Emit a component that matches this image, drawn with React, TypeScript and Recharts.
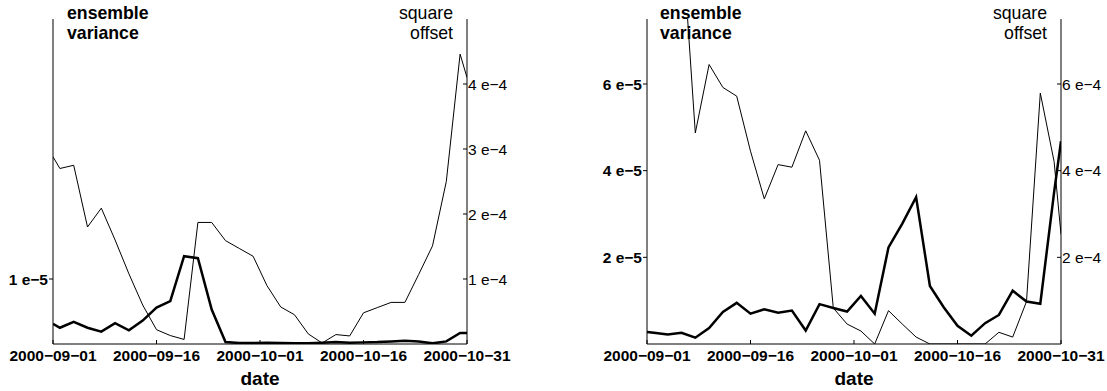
import React from 'react';
import { LineChart, Line, XAxis, YAxis } from 'recharts';

const FONT = '"Liberation Sans", Arial, Helvetica, sans-serif';

// day offsets from 2000-09-01
const days = [0, 1, 3, 5, 7, 9, 11, 13, 15, 17, 19, 21, 23, 25, 27, 29, 31, 33, 35, 37, 39, 41, 43, 45, 47, 49, 51, 53, 55, 57, 59, 60];

const xTickDays = [0, 15, 30, 45, 60];
const xTickLabels = ['2000−09−01', '2000−09−16', '2000−10−01', '2000−10−16', '2000−10−31'];

// Left panel
const leftVariance = [
  0.31e-5, 0.25e-5, 0.34e-5, 0.25e-5, 0.19e-5, 0.32e-5, 0.21e-5, 0.36e-5, 0.56e-5, 0.66e-5,
  1.35e-5, 1.32e-5, 0.53e-5, 0.03e-5, 0.015e-5, 0.015e-5, 0.02e-5, 0.015e-5, 0.01e-5, 0.01e-5,
  0.02e-5, 0.03e-5, 0.02e-5, 0.025e-5, 0.03e-5, 0.04e-5, 0.05e-5, 0.04e-5, 0.01e-5, 0.04e-5,
  0.17e-5, 0.17e-5,
];
const leftOffset = [
  2.88e-4, 2.7e-4, 2.75e-4, 1.8e-4, 2.09e-4, 1.6e-4, 1.08e-4, 0.6e-4, 0.22e-4, 0.13e-4,
  0.07e-4, 1.87e-4, 1.87e-4, 1.59e-4, 1.47e-4, 1.35e-4, 0.9e-4, 0.57e-4, 0.45e-4, 0.155e-4,
  0.015e-4, 0.145e-4, 0.124e-4, 0.48e-4, 0.56e-4, 0.64e-4, 0.64e-4, 1.07e-4, 1.51e-4, 2.5e-4,
  4.46e-4, 4.1e-4,
];
const leftVarTicks = [1e-5];
const leftVarTickLabels = ['1 e−5'];
const leftOffTicks = [1e-4, 2e-4, 3e-4, 4e-4];
const leftOffTickLabels = ['1 e−4', '2 e−4', '3 e−4', '4 e−4'];

// Right panel
const rightVariance = [
  0.28e-5, 0.26e-5, 0.22e-5, 0.26e-5, 0.145e-5, 0.37e-5, 0.74e-5, 0.95e-5, 0.7e-5, 0.8e-5,
  0.72e-5, 0.77e-5, 0.31e-5, 0.92e-5, 0.83e-5, 0.75e-5, 1.11e-5, 0.7e-5, 2.23e-5, 2.78e-5,
  3.39e-5, 1.34e-5, 0.85e-5, 0.42e-5, 0.19e-5, 0.48e-5, 0.67e-5, 1.23e-5, 0.98e-5, 0.93e-5,
  3.5e-5, 4.68e-5,
];
const rightOffset = [
  9.5e-4, 9.4e-4, 9.7e-4, 9.6e-4, 4.87e-4, 6.45e-4, 5.92e-4, 5.72e-4, 4.45e-4, 3.35e-4,
  4.14e-4, 4.08e-4, 4.92e-4, 4.24e-4, 0.83e-4, 0.46e-4, 0.3e-4, 0, 0.77e-4, 0.46e-4,
  0.16e-4, 0, 0, 0, 0, 0, 0.27e-4, 0.16e-4, 0.98e-4, 5.79e-4,
  4.21e-4, 2.53e-4,
];
const rightVarTicks = [2e-5, 4e-5, 6e-5];
const rightVarTickLabels = ['2 e−5', '4 e−5', '6 e−5'];
const rightOffTicks = [2e-4, 4e-4, 6e-4];
const rightOffTickLabels = ['2 e−4', '4 e−4', '6 e−4'];

const labelOf = (ticks: number[], labels: string[]) => (v: number) => {
  const i = ticks.findIndex((t) => Math.abs(t - v) < Math.abs(t) * 1e-6 + 1e-12);
  return i >= 0 ? labels[i] : '';
};

type PanelProps = {
  left: number;
  width: number;
  leftW: number;
  rightW: number;
  variance: number[];
  offset: number[];
  vMax: number;
  vTicks: number[];
  vLabels: string[];
  oMax: number;
  oTicks: number[];
  oLabels: string[];
  titleLeft: number;
};

function Panel(p: PanelProps) {
  const data = days.map((d, i) => ({ day: d, variance: p.variance[i], offset: p.offset[i] }));
  const plotLeft = p.leftW;
  const plotWidth = p.width - p.leftW - p.rightW;
  const axisStroke = { stroke: '#000', strokeWidth: 1 };
  return (
    <div style={{ position: 'absolute', left: p.left, top: 0, width: p.width, height: 391 }}>
      <LineChart width={p.width} height={391} data={data} margin={{ top: 19, right: 0, bottom: 0, left: 0 }}>
        <XAxis
          dataKey="day"
          type="number"
          domain={[0, 60]}
          ticks={xTickDays}
          interval={0}
          tickFormatter={labelOf(xTickDays, xTickLabels)}
          height={47}
          tickSize={-4}
          tickMargin={10}
          axisLine={axisStroke}
          tickLine={axisStroke}
          tick={{ fill: '#000', fontSize: 15.5, fontWeight: 'bold', fontFamily: FONT }}
          allowDataOverflow
        />
        <YAxis
          yAxisId="v"
          orientation="left"
          width={p.leftW}
          domain={[0, p.vMax]}
          ticks={p.vTicks}
          interval={0}
          tickFormatter={labelOf(p.vTicks, p.vLabels)}
          tickSize={4}
          tickMargin={1}
          axisLine={axisStroke}
          tickLine={axisStroke}
          tick={{ fill: '#000', fontSize: 15.5, fontWeight: 'bold', fontFamily: FONT }}
          allowDataOverflow
        />
        <YAxis
          yAxisId="o"
          orientation="right"
          width={p.rightW}
          domain={[0, p.oMax]}
          ticks={p.oTicks}
          interval={0}
          tickFormatter={labelOf(p.oTicks, p.oLabels)}
          tickSize={-4}
          tickMargin={5}
          axisLine={axisStroke}
          tickLine={axisStroke}
          tick={{ fill: '#000', fontSize: 15.5, fontFamily: FONT, textAnchor: 'start' }}
          allowDataOverflow
        />
        <Line yAxisId="v" dataKey="variance" type="linear" stroke="#000" strokeWidth={2.5} dot={false} activeDot={false} isAnimationActive={false} />
        <Line yAxisId="o" dataKey="offset" type="linear" stroke="#000" strokeWidth={1} dot={false} activeDot={false} isAnimationActive={false} />
      </LineChart>
      <div
        style={{
          position: 'absolute',
          left: p.titleLeft,
          top: 3,
          fontFamily: FONT,
          fontWeight: 'bold',
          fontSize: 17.7,
          lineHeight: '20px',
          color: '#000',
        }}
      >
        ensemble
        <br />
        variance
      </div>
      <div
        style={{
          position: 'absolute',
          right: p.rightW + 14,
          top: 3,
          fontFamily: FONT,
          fontSize: 17.7,
          lineHeight: '20px',
          color: '#000',
          textAlign: 'right',
        }}
      >
        square
        <br />
        offset
      </div>
      <div
        style={{
          position: 'absolute',
          left: plotLeft,
          width: plotWidth,
          top: 369,
          textAlign: 'center',
          fontFamily: FONT,
          fontWeight: 'bold',
          fontSize: 19,
          lineHeight: '20px',
          color: '#000',
        }}
      >
        date
      </div>
    </div>
  );
}

export default function App() {
  return (
    <div style={{ position: 'absolute', left: 0, top: 0, width: 1107, height: 391, background: '#fff' }}>
      <Panel
        left={0}
        width={553}
        leftW={53}
        rightW={86}
        variance={leftVariance}
        offset={leftOffset}
        vMax={5e-5}
        vTicks={leftVarTicks}
        vLabels={leftVarTickLabels}
        oMax={5e-4}
        oTicks={leftOffTicks}
        oLabels={leftOffTickLabels}
        titleLeft={67}
      />
      <Panel
        left={560}
        width={547}
        leftW={87}
        rightW={46}
        variance={rightVariance}
        offset={rightOffset}
        vMax={7.5e-5}
        vTicks={rightVarTicks}
        vLabels={rightVarTickLabels}
        oMax={7.5e-4}
        oTicks={rightOffTicks}
        oLabels={rightOffTickLabels}
        titleLeft={100}
      />
    </div>
  );
}
